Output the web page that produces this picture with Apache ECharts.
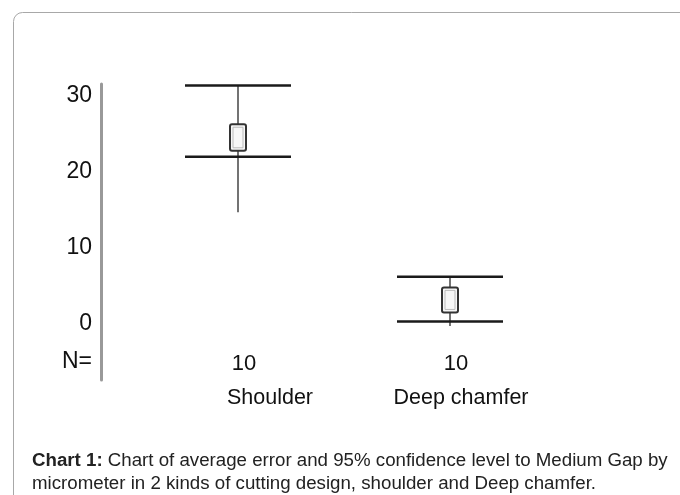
<!DOCTYPE html>
<html>
<head>
<meta charset="utf-8">
<script src="https://cdn.jsdelivr.net/npm/echarts@6/dist/echarts.min.js"></script>
<style>
  html, body { margin: 0; padding: 0; background: #fff; }
  #chart { width: 680px; height: 495px; }
</style>
</head>
<body>
<div id="chart"></div>
<script>
// categories and sample size
const categories = ['Shoulder', 'Deep chamfer'];
const counts = [10, 10];

// vertical line extent
const lineHigh = [31.4, 6.2];
const lineLow = [14.7, -0.3];
// horizontal bars (95% CI)
const capHigh = [31.4, 6.2];
const capLow = [22.0, 0.3];
// small box round the mean
const boxHigh = [26.3, 4.8];
const boxLow = [22.8, 1.5];

const yTicks = [-5, 0, 10, 20, 30];

const sans = '"Liberation Sans Narrow", "Arial Narrow", "Liberation Sans", Arial, sans-serif';
const capFont = '"Liberation Sans", Arial, sans-serif';

const seriesData = categories.map((c, i) => [i, lineLow[i], lineHigh[i], capLow[i], capHigh[i], boxLow[i], boxHigh[i]]);

const chart = echarts.init(document.getElementById('chart'));

chart.setOption({
  backgroundColor: '#fff',
  animation: false,
  grid: { left: 132, right: 124, top: 84, bottom: 115 },
  title: {
    left: 32,
    top: 449,
    padding: 0,
    text: '{b|Chart 1:} Chart of average error and 95% confidence level to Medium Gap by\nmicrometer in 2 kinds of cutting design, shoulder and Deep chamfer.',
    textStyle: {
      fontFamily: capFont,
      fontSize: 18.7,
      fontWeight: 'normal',
      color: '#222',
      lineHeight: 23,
      rich: {
        b: { fontFamily: capFont, fontSize: 18.7, fontWeight: 'bold', color: '#222', lineHeight: 23 }
      }
    }
  },
  graphic: [{
    type: 'rect',
    shape: { x: 13.5, y: 12.5, width: 720, height: 520, r: 9 },
    style: { fill: 'none', stroke: '#a8a8a8', lineWidth: 1 },
    silent: true,
    z: -1
  }],
  xAxis: {
    type: 'category',
    data: categories,
    axisLine: { show: false, onZero: false },
    axisTick: { show: false },
    splitLine: { show: false },
    axisLabel: {
      margin: -33,
      interval: 0,
      color: '#111',
      fontFamily: sans,
      fontSize: 21.5,
      lineHeight: 34,
      formatter: (value, index) => `{n|${counts[index]}}\n{${index === 0 ? 's' : 'd'}|${value}}`,
      rich: {
        n: { fontFamily: sans, fontSize: 22, lineHeight: 34, color: '#111', padding: [0, 0, 0, 12] },
        s: { fontFamily: sans, fontSize: 21.5, lineHeight: 34, color: '#111', padding: [0, 0, 0, 64] },
        d: { fontFamily: sans, fontSize: 21.5, lineHeight: 34, color: '#111', padding: [0, 0, 0, 22] }
      }
    }
  },
  yAxis: {
    type: 'value',
    min: -7.4,
    max: 31.6,
    offset: 31,
    axisLine: { show: true, lineStyle: { color: '#999', width: 3 } },
    axisTick: { show: false },
    splitLine: { show: false },
    axisLabel: {
      customValues: yTicks,
      showMinLabel: true,
      showMaxLabel: true,
      margin: 9,
      color: '#111',
      fontFamily: sans,
      fontSize: 23,
      formatter: v => (v === -5 ? 'N=' : String(v))
    }
  },
  series: [{
    type: 'custom',
    data: seriesData,
    renderItem: (params, api) => {
      const idx = api.value(0);
      const band = api.size([1, 0])[0];
      const half = band * 0.25;
      const bw = 8;
      const top = api.coord([idx, api.value(2)]);
      const bot = api.coord([idx, api.value(1)]);
      const cLo = api.coord([idx, api.value(3)]);
      const cHi = api.coord([idx, api.value(4)]);
      const bLo = api.coord([idx, api.value(5)]);
      const bHi = api.coord([idx, api.value(6)]);
      const x = top[0];
      return {
        type: 'group',
        children: [
          { type: 'line', shape: { x1: x, y1: top[1], x2: x, y2: bot[1] }, style: { stroke: '#444', lineWidth: 1.5 } },
          { type: 'line', shape: { x1: x - half, y1: cHi[1], x2: x + half, y2: cHi[1] }, style: { stroke: '#1a1a1a', lineWidth: 2.5 } },
          { type: 'line', shape: { x1: x - half, y1: cLo[1], x2: x + half, y2: cLo[1] }, style: { stroke: '#1a1a1a', lineWidth: 2.5 } },
          { type: 'rect', shape: { x: x - bw, y: bHi[1], width: bw * 2, height: bLo[1] - bHi[1], r: 2 }, style: { fill: '#f7f7f7', stroke: '#333', lineWidth: 2 } },
          { type: 'rect', shape: { x: x - bw + 3, y: bHi[1] + 3, width: bw * 2 - 6, height: bLo[1] - bHi[1] - 6 }, style: { fill: 'none', stroke: '#bbb', lineWidth: 1 } }
        ]
      };
    }
  }]
});
</script>
</body>
</html>
